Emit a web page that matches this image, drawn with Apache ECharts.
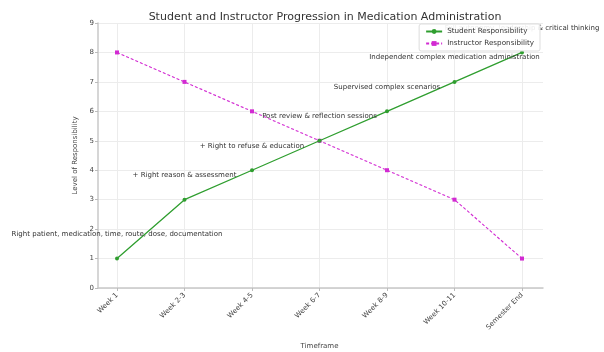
<!DOCTYPE html>
<html>
<head>
<meta charset="utf-8">
<script src="https://cdn.jsdelivr.net/npm/echarts@6/dist/echarts.min.js"></script>
<style>
  html, body { margin: 0; padding: 0; background: #fff; }
  #chart { width: 604px; height: 352px; }
</style>
</head>
<body>
<div id="chart"></div>
<script>
const timeframes = ['Week 1', 'Week 2-3', 'Week 4-5', 'Week 6-7', 'Week 8-9', 'Week 10-11', 'Semester End']
const studentLevels = [1, 3, 4, 5, 6, 7, 8]
const instructorLevels = [8, 7, 6, 5, 4, 3, 1]
const milestones = [
  'Right patient, medication, time, route, dose, documentation',
  '+ Right reason & assessment',
  '+ Right to refuse & education',
  'Post review & reflection sessions',
  'Supervised complex scenarios',
  'Independent complex medication administration',
  'Full autonomy, leadership & critical thinking'
]

const font = 'DejaVu Sans'
const chart = echarts.init(document.getElementById('chart'))

const option = {
  animation: false,
  textStyle: { fontFamily: font },
  title: {
    text: 'Student and Instructor Progression in Medication Administration',
    left: 320,
    textAlign: 'center',
    top: 7,
    textStyle: { fontFamily: font, fontSize: 11, fontWeight: 'normal', color: '#333' }
  },
  legend: {
    data: ['Student Responsibility', 'Instructor Responsibility'],
    orient: 'vertical',
    right: 64,
    top: 24,
    backgroundColor: 'rgba(255,255,255,0.9)',
    borderColor: '#ddd',
    borderWidth: 1,
    borderRadius: 2,
    padding: [4, 6],
    itemGap: 5,
    itemWidth: 16,
    itemHeight: 6,
    textStyle: { fontFamily: font, fontSize: 7.2, color: '#333' }
  },
  grid: [
    { left: 98, right: 61, top: 23, bottom: 64, outerBoundsMode: 'none' },
    { left: 117, right: 82, top: 23, bottom: 64, outerBoundsMode: 'none' }
  ],
  xAxis: [
    {
      gridIndex: 0,
      type: 'value',
      min: 0,
      max: 1,
      axisLine: { show: true, lineStyle: { color: '#c8c8c8', width: 1.5 } },
      axisTick: { show: false },
      axisLabel: { show: false },
      splitLine: { show: false }
    },
    {
      gridIndex: 1,
      type: 'category',
      data: timeframes,
      boundaryGap: false,
      axisLine: { show: false },
      axisTick: { show: true, length: 3, lineStyle: { color: '#bbb' } },
      axisLabel: { rotate: 45, fontSize: 7, color: '#444', margin: 6, interval: 0 },
      splitLine: { show: true, lineStyle: { color: '#ececec', width: 1 } },
      name: 'Timeframe',
      nameLocation: 'middle',
      nameGap: 55,
      nameTextStyle: { fontSize: 7, color: '#444' }
    }
  ],
  yAxis: [
    {
      gridIndex: 0,
      type: 'value',
      min: 0,
      max: 9,
      interval: 1,
      axisLine: { show: true, lineStyle: { color: '#c8c8c8', width: 1.5 } },
      axisTick: { show: true, length: 3, lineStyle: { color: '#bbb' } },
      axisLabel: { fontSize: 7, color: '#444', margin: 4 },
      splitLine: { show: true, lineStyle: { color: '#ececec', width: 1 } },
      name: 'Level of Responsibility',
      nameLocation: 'middle',
      nameGap: 11,
      nameTextStyle: { fontSize: 7, color: '#444' }
    },
    {
      gridIndex: 1,
      type: 'value',
      min: 0,
      max: 9,
      show: false
    }
  ],
  series: [
    {
      name: 'Student Responsibility',
      type: 'line',
      xAxisIndex: 1,
      yAxisIndex: 1,
      data: studentLevels,
      symbol: 'circle',
      symbolSize: 4,
      color: '#2f9e2f',
      lineStyle: { width: 1.3, color: '#2f9e2f' },
      label: {
        show: true,
        position: 'top',
        distance: 19,
        fontSize: 7,
        color: '#333',
        formatter: p => milestones[p.dataIndex]
      },
      z: 3
    },
    {
      name: 'Instructor Responsibility',
      type: 'line',
      xAxisIndex: 1,
      yAxisIndex: 1,
      data: instructorLevels,
      symbol: 'rect',
      symbolSize: 4,
      color: '#d22ad2',
      lineStyle: { width: 1.1, type: [3, 2], color: '#d22ad2' },
      z: 2
    }
  ]
}

chart.setOption(option)
</script>
</body>
</html>
